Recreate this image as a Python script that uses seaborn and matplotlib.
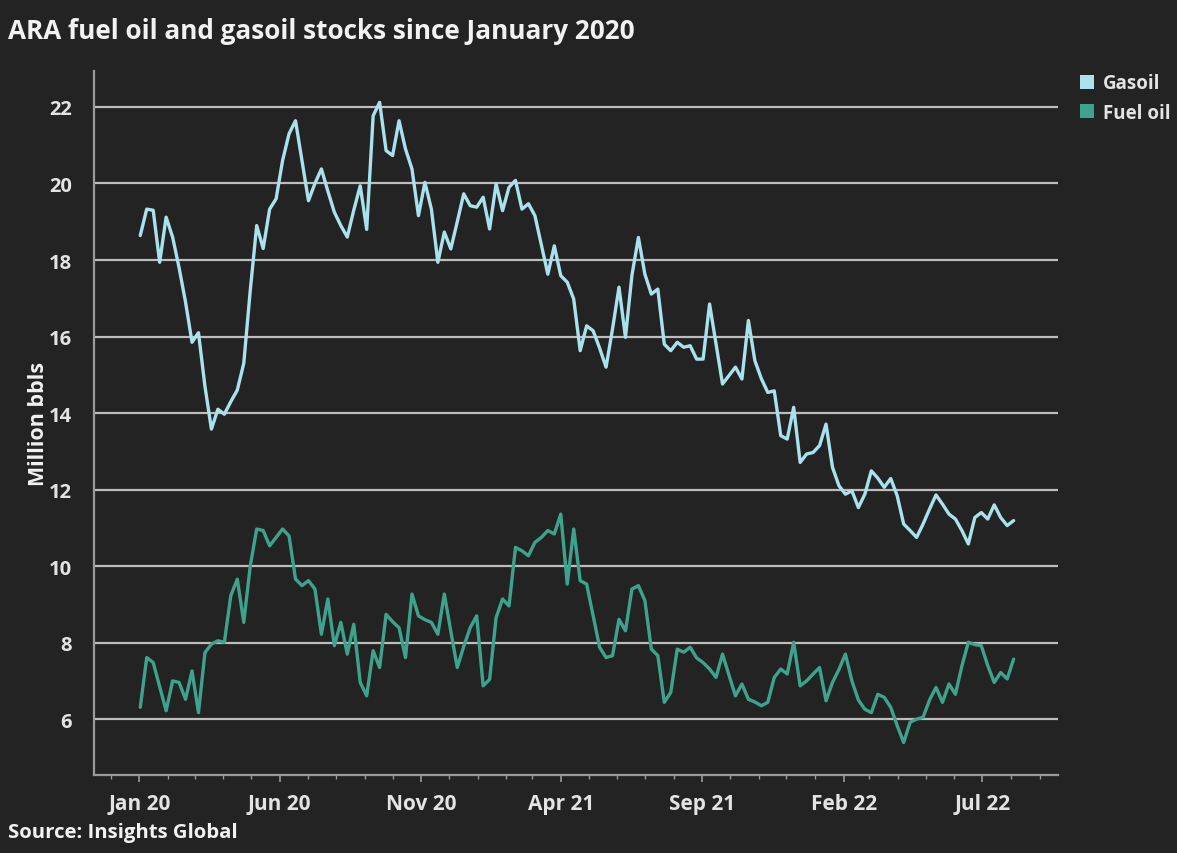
import numpy as np
import pandas as pd
import matplotlib
matplotlib.use("Agg")
import matplotlib.pyplot as plt
import matplotlib.dates as mdates
from matplotlib.patches import Patch
import seaborn as sns

# ---- data (million bbls, weekly) ----
start_date = "2020-01-02"
gasoil = [18.64, 19.33, 19.3, 17.94, 19.12, 18.6, 17.8, 16.9, 15.85, 16.1,
          14.7, 13.58, 14.1, 13.97, 14.3, 14.6, 15.3, 17.2, 18.9, 18.3,
          19.33, 19.6, 20.6, 21.3, 21.64, 20.6, 19.55, 20.0, 20.38, 19.8,
          19.25, 18.9, 18.6, 19.3, 19.94, 18.8, 21.77, 22.12, 20.86, 20.73,
          21.64, 20.9, 20.38, 19.16, 20.03, 19.33, 17.94, 18.73, 18.29, 19.0,
          19.73, 19.42, 19.38, 19.64, 18.81, 19.99, 19.29, 19.9, 20.08, 19.33,
          19.47, 19.16, 18.4, 17.63, 18.37, 17.59, 17.42, 16.98, 15.63, 16.28,
          16.15, 15.7, 15.2, 16.2, 17.29, 15.98, 17.6, 18.59, 17.63, 17.11,
          17.24, 15.8, 15.63, 15.85, 15.72, 15.76, 15.41, 15.41, 16.85, 15.8,
          14.76, 14.98, 15.2, 14.89, 16.42, 15.37, 14.9, 14.54, 14.58, 13.41,
          13.32, 14.15, 12.71, 12.93, 12.97, 13.15, 13.71, 12.58, 12.1, 11.88,
          11.97, 11.53, 11.88, 12.49, 12.3, 12.06, 12.29, 11.84, 11.1, 10.93,
          10.75, 11.1, 11.49, 11.86, 11.62, 11.36, 11.23, 10.93, 10.58, 11.27,
          11.4, 11.23, 11.6, 11.27, 11.06, 11.19]
fuel_oil = [6.31, 7.61, 7.48, 6.85, 6.22, 7.0, 6.96, 6.52, 7.26, 6.17,
            7.74, 7.96, 8.05, 8.01, 9.23, 9.66, 8.53, 10.0, 10.97, 10.93,
            10.53, 10.75, 10.97, 10.79, 9.66, 9.49, 9.62, 9.4, 8.22, 9.14,
            7.92, 8.53, 7.7, 8.48, 6.96, 6.61, 7.79, 7.35, 8.74, 8.55,
            8.39, 7.61, 9.27, 8.7, 8.6, 8.53, 8.22, 9.27, 8.3, 7.35,
            7.9, 8.39, 8.7, 6.87, 7.04, 8.65, 9.14, 8.96, 10.49, 10.4,
            10.27, 10.62, 10.75, 10.93, 10.84, 11.36, 9.53, 10.97, 9.62, 9.53,
            8.7, 7.88, 7.61, 7.66, 8.61, 8.31, 9.4, 9.49, 9.1, 7.83,
            7.66, 6.44, 6.7, 7.83, 7.75, 7.88, 7.6, 7.48, 7.31, 7.09,
            7.7, 7.15, 6.61, 6.92, 6.52, 6.45, 6.35, 6.44, 7.09, 7.31,
            7.18, 8.01, 6.87, 7.0, 7.18, 7.35, 6.48, 6.96, 7.3, 7.7,
            7.0, 6.5, 6.26, 6.17, 6.65, 6.57, 6.31, 5.83, 5.39, 5.92,
            6.0, 6.05, 6.5, 6.83, 6.44, 6.92, 6.65, 7.39, 8.01, 7.95,
            7.92, 7.4, 6.96, 7.22, 7.05, 7.57]
series_names = ["Gasoil", "Fuel oil"]
series_colors = ["#a9e1ec", "#3da38d"]
y_ticks = [6, 8, 10, 12, 14, 16, 18, 20, 22]
x_tick_dates = ["2020-01-01", "2020-06-01", "2020-11-01", "2021-04-01",
                "2021-09-01", "2022-02-01", "2022-07-01"]
x_tick_labels = ["Jan 20", "Jun 20", "Nov 20", "Apr 21", "Sep 21", "Feb 22", "Jul 22"]

dates = pd.date_range(start_date, periods=len(gasoil), freq="7D")
df = pd.concat([
    pd.DataFrame({"date": dates, "value": gasoil, "series": series_names[0]}),
    pd.DataFrame({"date": dates, "value": fuel_oil, "series": series_names[1]}),
])

BG = "#232323"
GRID = "#bdbdbd"
TXT = "#f2f2f2"
LBL = "#e3e3e3"
FONT = ["Open Sans", "DejaVu Sans"]

sns.set_theme(style="dark")
plt.rcParams["font.family"] = FONT

fig = plt.figure(figsize=(11.77, 8.54), dpi=100, facecolor=BG)
ax = fig.add_axes([0.0799, 0.0913, 0.819, 0.8244])
ax.set_facecolor(BG)

sns.lineplot(data=df, x="date", y="value", hue="series", hue_order=series_names,
             palette=series_colors, linewidth=2.4, ax=ax, legend=False)

ax.set_ylim(4.54, 22.94)
ax.set_xlim(pd.Timestamp("2019-11-13"), pd.Timestamp("2022-09-21"))
ax.set_yticks(y_ticks)
ax.set_xticks(pd.to_datetime(x_tick_dates))
ax.set_xticklabels(x_tick_labels)
ax.xaxis.set_minor_locator(mdates.MonthLocator())

ax.grid(axis="y", color=GRID, linewidth=1.6)
ax.grid(axis="x", visible=False)
for s in ["top", "right"]:
    ax.spines[s].set_visible(False)
for s in ["left", "bottom"]:
    ax.spines[s].set_visible(True)
    ax.spines[s].set_color("#9a9a9a")
    ax.spines[s].set_linewidth(1.6)

ax.tick_params(axis="y", which="both", length=0, labelsize=14.5, labelcolor=LBL, pad=16)
ax.tick_params(axis="x", which="major", length=5, width=1.2, color="#9a9a9a",
               labelsize=15, labelcolor=LBL, pad=8, bottom=True)
ax.tick_params(axis="x", which="minor", length=3, width=1, color="#9a9a9a", bottom=True)
for lab in ax.get_xticklabels() + ax.get_yticklabels():
    lab.set_fontweight("bold")

ax.set_xlabel("")
ax.set_ylabel("Million bbls", fontsize=15.5, fontweight="bold", color=TXT)
ax.yaxis.set_label_coords(-0.047, 0.5)

fig.text(0.007, 0.963, "ARA fuel oil and gasoil stocks since January 2020",
         fontsize=18.8, fontweight="bold", color=TXT, ha="left", va="center")
fig.text(0.007, 0.025, "Source: Insights Global", fontsize=14.7, fontweight="bold",
         color=TXT, ha="left", va="center")

handles = [Patch(facecolor=c, edgecolor="none", label=n) for n, c in zip(series_names, series_colors)]
leg = fig.legend(handles=handles, loc="upper left", bbox_to_anchor=(0.9176, 0.913),
                 frameon=False, fontsize=13.5, handlelength=0.75, handleheight=0.75,
                 handletextpad=0.45, labelspacing=0.5, borderaxespad=0, borderpad=0)
for t in leg.get_texts():
    t.set_color(LBL)
    t.set_fontweight("bold")

fig.savefig("out.png", dpi=100, facecolor=BG)
